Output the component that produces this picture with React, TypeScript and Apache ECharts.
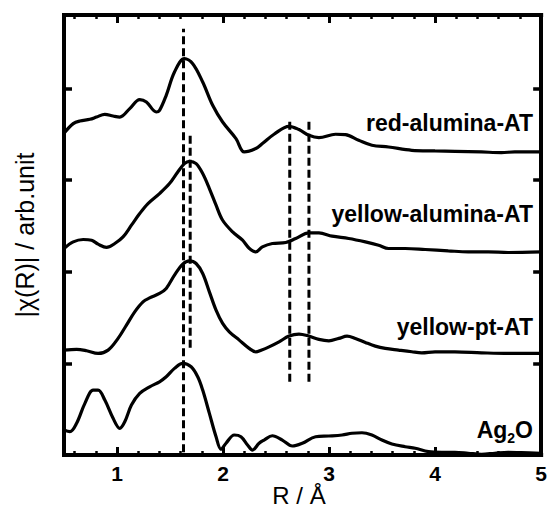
import React, { useEffect, useRef } from "react";
import * as echarts from "echarts";

const xMajorTicks = [1, 2, 3, 4, 5];
const xMinorTicks = [0.6, 0.8, 1.2, 1.4, 1.6, 1.8, 2.2, 2.4, 2.6, 2.8, 3.2, 3.4, 3.6, 3.8, 4.2, 4.4, 4.6, 4.8];
const yMajorTicks = [1, 2, 3, 4];

const seriesNames = ["red-alumina-AT", "yellow-alumina-AT", "yellow-pt-AT", "Ag2O"];

const redAluminaAT: [number, number][] = [
  [0.5, 3.51], [0.587, 3.615], [0.65, 3.644], [0.744, 3.662], [0.807, 3.687], [0.885, 3.717],
  [0.963, 3.698], [1.026, 3.687], [1.12, 3.779], [1.214, 3.877], [1.277, 3.851], [1.37, 3.742],
  [1.401, 3.76], [1.464, 3.924], [1.542, 4.178], [1.636, 4.324], [1.714, 4.269], [1.808, 4.069],
  [1.902, 3.815], [1.996, 3.633], [2.122, 3.452], [2.2, 3.306], [2.309, 3.343], [2.371, 3.397],
  [2.481, 3.499], [2.622, 3.586], [2.716, 3.55], [2.81, 3.488], [2.904, 3.463], [3.061, 3.499],
  [3.154, 3.495], [3.279, 3.433], [3.404, 3.379], [3.561, 3.36], [3.78, 3.324], [3.999, 3.317],
  [4.187, 3.313], [4.437, 3.306], [4.625, 3.299], [4.751, 3.306], [5.0, 3.306],
];

const yellowAluminaAT: [number, number][] = [
  [0.5, 2.253], [0.587, 2.325], [0.681, 2.351], [0.76, 2.343], [0.822, 2.3], [0.901, 2.264],
  [0.979, 2.307], [1.057, 2.379], [1.136, 2.507], [1.214, 2.634], [1.292, 2.743], [1.401, 2.852],
  [1.495, 2.961], [1.573, 3.088], [1.636, 3.179], [1.683, 3.204], [1.746, 3.179], [1.808, 3.07],
  [1.871, 2.907], [1.934, 2.725], [1.996, 2.561], [2.09, 2.434], [2.184, 2.343], [2.246, 2.256],
  [2.309, 2.216], [2.371, 2.27], [2.465, 2.307], [2.591, 2.318], [2.685, 2.362], [2.81, 2.423],
  [2.904, 2.423], [3.029, 2.387], [3.185, 2.362], [3.342, 2.325], [3.467, 2.289], [3.561, 2.253],
  [3.718, 2.253], [3.906, 2.242], [4.124, 2.227], [4.312, 2.216], [4.5, 2.216], [4.688, 2.209],
  [5.0, 2.216],
];

const yellowPtAT: [number, number][] = [
  [0.5, 1.144], [0.619, 1.152], [0.713, 1.137], [0.822, 1.108], [0.916, 1.144], [1.01, 1.272],
  [1.089, 1.417], [1.167, 1.562], [1.245, 1.671], [1.308, 1.714], [1.401, 1.762], [1.464, 1.817],
  [1.542, 1.962], [1.62, 2.082], [1.683, 2.118], [1.746, 2.089], [1.808, 1.98], [1.871, 1.78],
  [1.934, 1.58], [1.996, 1.435], [2.059, 1.344], [2.153, 1.253], [2.246, 1.163], [2.309, 1.126],
  [2.359, 1.144], [2.434, 1.18], [2.528, 1.235], [2.622, 1.297], [2.716, 1.319], [2.81, 1.297],
  [2.904, 1.261], [2.998, 1.246], [3.092, 1.272], [3.169, 1.297], [3.248, 1.272], [3.342, 1.228],
  [3.436, 1.188], [3.53, 1.163], [3.655, 1.144], [3.78, 1.126], [3.874, 1.115], [3.999, 1.126],
  [4.187, 1.126], [4.437, 1.115], [4.688, 1.108], [5.0, 1.108],
];

const ag2O: [number, number][] = [
  [0.5, 0.272], [0.556, 0.254], [0.619, 0.346], [0.697, 0.563], [0.775, 0.708], [0.822, 0.708],
  [0.885, 0.599], [0.963, 0.4], [1.026, 0.291], [1.073, 0.363], [1.136, 0.545], [1.214, 0.672],
  [1.308, 0.744], [1.401, 0.799], [1.464, 0.853], [1.542, 0.945], [1.62, 0.999], [1.699, 0.962],
  [1.761, 0.853], [1.808, 0.708], [1.871, 0.454], [1.934, 0.199], [1.981, 0.062], [2.028, 0.128],
  [2.106, 0.218], [2.169, 0.199], [2.231, 0.109], [2.278, 0.054], [2.34, 0.128], [2.387, 0.163],
  [2.465, 0.21], [2.559, 0.163], [2.653, 0.098], [2.747, 0.128], [2.873, 0.199], [2.998, 0.207],
  [3.123, 0.218], [3.216, 0.237], [3.31, 0.243], [3.404, 0.218], [3.498, 0.163], [3.592, 0.12],
  [3.718, 0.09], [3.812, 0.073], [3.937, 0.036], [4.062, 0.029], [4.187, 0.029], [4.312, 0.019],
  [4.437, 0.008], [4.562, 0.019], [4.688, 0.029], [4.813, 0.025], [5.0, 0.019],
];

const dashX = [1.627, 1.69, 2.629, 2.81];
const dashTop = [4.65, 3.52, 3.64, 3.64];
const dashBottom = [0.03, 1.17, 0.8, 0.8];

const FONT = "'Liberation Sans', Arial, Helvetica, sans-serif";

export default function App() {
  const ref = useRef<HTMLDivElement>(null);
  useEffect(() => {
    if (!ref.current) return;
    const chart = echarts.init(ref.current, null, { renderer: "svg" });
    const black = "#000";
    const xBase = { type: "value" as const, min: 0.5, max: 5, splitLine: { show: false } };
    const yBase = { type: "value" as const, min: 0, max: 4.8, interval: 1, splitLine: { show: false } };
    const lineMain = { show: true, lineStyle: { color: black, width: 4, cap: "square" } };

    const curves = [redAluminaAT, yellowAluminaAT, yellowPtAT, ag2O].map((d, i) => ({
      type: "line",
      name: seriesNames[i],
      data: d,
      smooth: 0.35,
      showSymbol: false,
      symbol: "none",
      lineStyle: { color: black, width: 3.2 },
      xAxisIndex: 0,
      yAxisIndex: 0,
      z: 3,
    }));
    const dashes = dashX.map((x, i) => ({
      type: "line",
      data: [[x, dashBottom[i]], [x, dashTop[i]]],
      showSymbol: false,
      symbol: "none",
      lineStyle: { color: black, width: 3, type: [8, 4] },
      xAxisIndex: 0,
      yAxisIndex: 0,
      z: 2,
    }));

    const labelStyle = { fontSize: 23, fontWeight: "bold", fontFamily: FONT, fill: black, align: "right", verticalAlign: "middle" };

    chart.setOption({
      animation: false,
      backgroundColor: "#fff",
      grid: { left: 64, right: 7, top: 15, bottom: 54, containLabel: false },
      xAxis: [
        {
          ...xBase, position: "bottom", axisLine: lineMain,
          axisTick: { show: true, inside: true, length: 8, lineStyle: { color: black, width: 3 }, customValues: xMajorTicks },
          axisLabel: { show: true, customValues: xMajorTicks, fontSize: 21, fontWeight: "bold", color: black, fontFamily: FONT, margin: 8 },
        },
        {
          ...xBase, position: "bottom", axisLine: { show: false },
          axisTick: { show: true, inside: true, length: 4, lineStyle: { color: black, width: 2.5 }, customValues: xMinorTicks },
          axisLabel: { show: false },
        },
        {
          ...xBase, position: "top", axisLine: lineMain,
          axisTick: { show: true, inside: true, length: 8, lineStyle: { color: black, width: 3 }, customValues: xMajorTicks },
          axisLabel: { show: false },
        },
        {
          ...xBase, position: "top", axisLine: { show: false },
          axisTick: { show: true, inside: true, length: 4, lineStyle: { color: black, width: 2.5 }, customValues: xMinorTicks },
          axisLabel: { show: false },
        },
      ],
      yAxis: [
        {
          ...yBase, position: "left", axisLine: lineMain,
          axisTick: { show: true, inside: true, length: 8, lineStyle: { color: black, width: 3.5 }, customValues: yMajorTicks },
          axisLabel: { show: false },
        },
        {
          ...yBase, position: "right", axisLine: lineMain,
          axisTick: { show: true, inside: true, length: 8, lineStyle: { color: black, width: 3.5 }, customValues: yMajorTicks },
          axisLabel: { show: false },
        },
      ],
      series: [...curves, ...dashes],
      graphic: [
        { type: "text", x: 533, y: 123, z: 10, style: { ...labelStyle, text: seriesNames[0] } },
        { type: "text", x: 533, y: 214, z: 10, style: { ...labelStyle, text: seriesNames[1] } },
        { type: "text", x: 533, y: 327, z: 10, style: { ...labelStyle, text: seriesNames[2] } },
        {
          type: "text", x: 533, y: 430, z: 10,
          style: {
            text: "{a|Ag}{s|2}{a|O}", align: "right", verticalAlign: "middle", fill: black,
            rich: {
              a: { fontSize: 23, fontWeight: "bold", fontFamily: FONT, lineHeight: 30, fill: black },
              s: { fontSize: 14, fontWeight: "bold", fontFamily: FONT, lineHeight: 14, verticalAlign: "bottom", fill: black },
            },
          },
        },
        {
          type: "text", x: 25, y: 235, rotation: Math.PI / 2, z: 10,
          style: { text: "|χ(R)| / arb.unit", fontSize: 25, fontFamily: FONT, fill: black, align: "center", verticalAlign: "middle" },
        },
        {
          type: "text", x: 299, y: 495, z: 10,
          style: { text: "R / Å", fontSize: 24, fontFamily: FONT, fill: black, align: "center", verticalAlign: "middle" },
        },
      ],
    });
    return () => chart.dispose();
  }, []);
  return <div ref={ref} style={{ width: 550, height: 509, position: "absolute", left: 0, top: 0 }} />;
}
